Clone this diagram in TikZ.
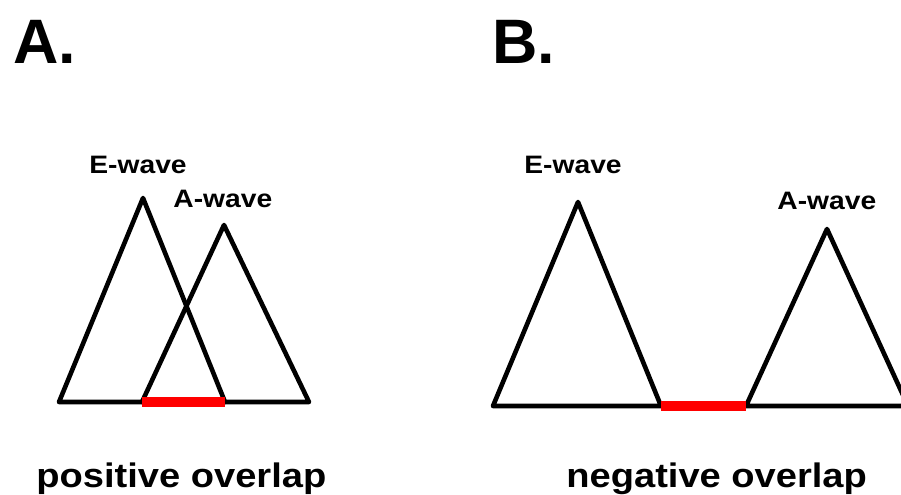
\documentclass[tikz,border=0pt]{standalone}
\usepackage{fontspec}
\setmainfont{Liberation Sans}
\newfontfamily\widesans[FakeStretch=1.12]{Liberation Sans}
\usepackage{xcolor}
\usetikzlibrary{positioning}
\definecolor{gapRed}{RGB}{255,0,0}

\begin{document}
\begin{tikzpicture}[x=0.5pt,y=-0.5pt,
  wave/.style={black, line width=2.3pt, line join=round},
  gap/.style={gapRed, line width=4.8pt},
  panel/.style={font=\fontsize{31.4}{34}\selectfont\bfseries, anchor=base west, inner sep=0pt},
  peak/.style={font=\widesans\fontsize{12.6}{14}\selectfont\bfseries, anchor=base west, inner sep=0pt},
  verdict/.style={font=\widesans\fontsize{17}{20}\selectfont\bfseries, anchor=base west, inner sep=0pt}]
\useasboundingbox (0,0) rectangle (901,494);
\clip (0,0) rectangle (901,494);
% panel A: waves overlap
\coordinate (eA-l) at (59,402);
\coordinate (eA-t) at (143,198);
\coordinate (eA-r) at (225,402);
\coordinate (aA-l) at (142,402);
\coordinate (aA-t) at (224,225);
\coordinate (aA-r) at (309,402);
\draw[wave] (eA-l) -- (eA-t) -- (eA-r) -- cycle;
\draw[wave] (aA-l) -- (aA-t) -- (aA-r) -- cycle;
\draw[gap] (aA-l) -- (eA-r);
\node[panel] (labA) at (13,63) {A.};
\node[peak] (eA-lab) at (89,173) {E-wave};
\node[peak] (aA-lab) at (173,207) {A-wave};
\node[verdict] (posA) at (36,487) {positive overlap};
% panel B: waves apart
\coordinate (eB-l) at (493,406);
\coordinate (eB-t) at (578,202);
\coordinate (eB-r) at (661,406);
\coordinate (aB-l) at (746,406);
\coordinate (aB-t) at (827,229);
\coordinate (aB-r) at (908,406);
\draw[wave] (eB-l) -- (eB-t) -- (eB-r) -- (aB-l) -- (aB-t) -- (aB-r) -- cycle;
\draw[gap] (eB-r) -- (aB-l);
\node[panel] (labB) at (492,63) {B.};
\node[peak] (eB-lab) at (524,173) {E-wave};
\node[peak] (aB-lab) at (777,209) {A-wave};
\node[verdict] (negB) at (566,487) {negative overlap};
\end{tikzpicture}
\end{document}
